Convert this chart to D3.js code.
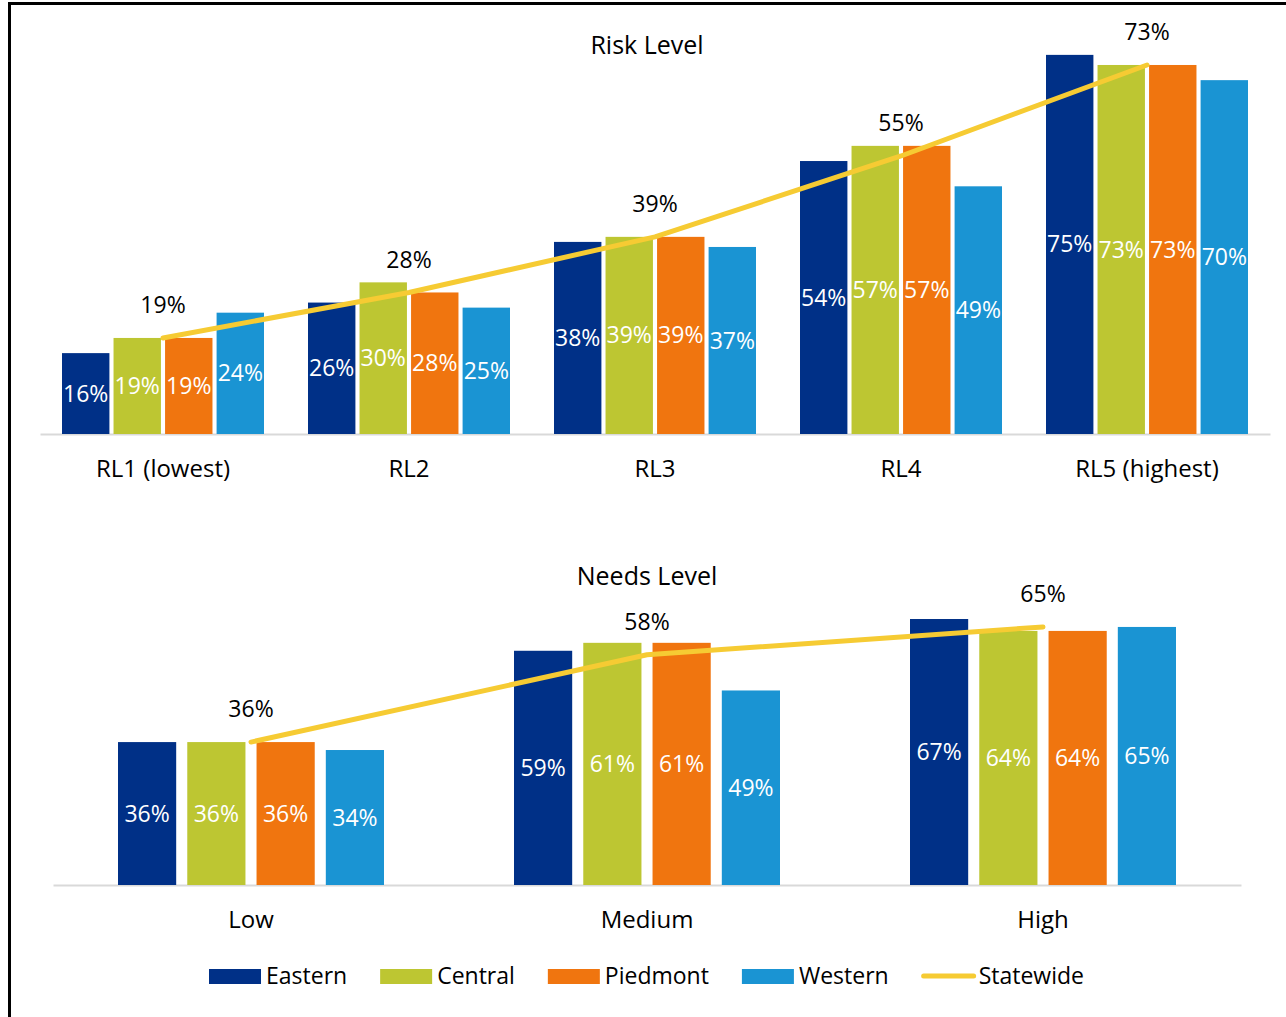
<!DOCTYPE html>
<html>
<head>
<meta charset="utf-8">
<script src="https://cdn.jsdelivr.net/npm/d3@7"></script>
<style>
  body { margin: 0; background: #fff; }
  svg text { font-family: "Open Sans", sans-serif; }
</style>
</head>
<body>
<div id="chart"></div>
<script>
const width = 1286,
    height = 1017;

// series / categories
const regions = ["Eastern", "Central", "Piedmont", "Western"];
const regionColors = ["#003087", "#BDC632", "#F0750F", "#1A94D3"];
const statewideColor = "#F6CB33";

const riskCats = ["RL1 (lowest)", "RL2", "RL3", "RL4", "RL5 (highest)"];
const riskEastern = [16, 26, 38, 54, 75];
const riskCentral = [19, 30, 39, 57, 73];
const riskPiedmont = [19, 28, 39, 57, 73];
const riskWestern = [24, 25, 37, 49, 70];
const riskStatewide = [19, 28, 39, 55, 73];

const needsCats = ["Low", "Medium", "High"];
const needsEastern = [36, 59, 67];
const needsCentral = [36, 61, 64];
const needsPiedmont = [36, 61, 64];
const needsWestern = [34, 49, 65];
const needsStatewide = [36, 58, 65];

let svg = d3.select('#chart').append('svg')
    .attr('width', width)
    .attr('height', height);

// frame (top and left edges visible)
svg.append("path")
    .attr("d", "M9.5,1286 V3.5 H1286")
    .attr("fill", "none")
    .attr("stroke", "#000")
    .attr("stroke-width", 3);

function drawPanel(opt) {
    let g = svg.append("g");

    let x = d3.scaleBand()
        .domain(opt.cats)
        .range([opt.x0, opt.x1]);

    let xi = d3.scaleBand()
        .domain(regions)
        .range(opt.inner)
        .paddingInner(opt.innerPad);

    let y = d3.scaleLinear()
        .domain([0, 80])
        .range([opt.base, opt.base - 80 * opt.pxPer]);

    // title
    g.append("text")
        .attr("x", 647)
        .attr("y", opt.titleY)
        .attr("dy", "0.35em")
        .attr("text-anchor", "middle")
        .style("font-size", "25px")
        .attr("fill", "#000")
        .text(opt.title);

    // axis
    let axis = g.append("g")
        .attr("transform", "translate(0," + opt.base + ")")
        .call(d3.axisBottom(x).tickSize(0).tickSizeOuter(0));
    axis.select(".domain")
        .attr("stroke", "#D9D9D9")
        .attr("stroke-width", 2);
    axis.selectAll("text")
        .attr("y", 35)
        .attr("dy", "0.35em")
        .attr("fill", "#000")
        .style("font-size", "24px")
        .style("font-family", "'Open Sans', sans-serif");

    let rows = opt.cats.map((c, i) => ({
        cat: c,
        vals: opt.series.map(s => s[i])
    }));

    let groups = g.selectAll(".grp")
        .data(rows)
        .enter()
        .append("g")
        .attr("transform", d => "translate(" + x(d.cat) + ",0)");

    groups.selectAll("rect")
        .data(d => d.vals.map((v, j) => ({ region: regions[j], v: v, j: j })))
        .enter()
        .append("rect")
        .attr("x", d => xi(d.region))
        .attr("width", xi.bandwidth())
        .attr("y", d => y(d.v))
        .attr("height", d => y(0) - y(d.v))
        .attr("fill", d => regionColors[d.j]);

    // statewide line
    let line = d3.line()
        .x((d, i) => x(opt.cats[i]) + x.bandwidth() / 2)
        .y(d => y(d));

    g.append("path")
        .datum(opt.statewide)
        .attr("d", line)
        .attr("fill", "none")
        .attr("stroke", statewideColor)
        .attr("stroke-width", 5)
        .attr("stroke-linecap", "round")
        .attr("stroke-linejoin", "round");

    // values inside bars
    groups.selectAll(".val")
        .data(d => d.vals.map((v, j) => ({ region: regions[j], v: v })))
        .enter()
        .append("text")
        .attr("x", d => xi(d.region) + xi.bandwidth() / 2)
        .attr("y", d => (y(d.v) + y(0)) / 2)
        .attr("dy", "0.35em")
        .attr("text-anchor", "middle")
        .attr("fill", "#fff")
        .style("font-size", "23px")
        .text(d => d.v + "%");

    // statewide labels
    g.selectAll(".sw")
        .data(opt.statewide)
        .enter()
        .append("text")
        .attr("x", (d, i) => x(opt.cats[i]) + x.bandwidth() / 2)
        .attr("y", d => y(d) - 33)
        .attr("dy", "0.35em")
        .attr("text-anchor", "middle")
        .attr("fill", "#000")
        .style("font-size", "23px")
        .text(d => d + "%");
}

drawPanel({
    title: "Risk Level",
    titleY: 45,
    cats: riskCats,
    series: [riskEastern, riskCentral, riskPiedmont, riskWestern],
    statewide: riskStatewide,
    x0: 40, x1: 1270,
    inner: [22, 224],
    innerPad: 0.08,
    base: 434,
    pxPer: 5.055
});

drawPanel({
    title: "Needs Level",
    titleY: 576,
    cats: needsCats,
    series: [needsEastern, needsCentral, needsPiedmont, needsWestern],
    statewide: needsStatewide,
    x0: 53, x1: 1241,
    inner: [65, 331],
    innerPad: 0.16,
    base: 885,
    pxPer: 3.97
});

// legend
let legend = svg.append("g");
let legendItems = regions.map((r, i) => ({ name: r, color: regionColors[i], line: false }))
    .concat([{ name: "Statewide", color: statewideColor, line: true }]);

let lx = 209;
legendItems.forEach(function (d) {
    if (d.line) {
        legend.append("line")
            .attr("x1", lx + 2).attr("x2", lx + 52)
            .attr("y1", 976).attr("y2", 976)
            .attr("stroke", d.color)
            .attr("stroke-width", 5)
            .attr("stroke-linecap", "round");
    } else {
        legend.append("rect")
            .attr("x", lx).attr("y", 969)
            .attr("width", 52).attr("height", 15)
            .attr("fill", d.color);
    }
    let t = legend.append("text")
        .attr("x", lx + 57)
        .attr("y", 976)
        .attr("dy", "0.35em")
        .attr("fill", "#000")
        .style("font-size", "23px")
        .text(d.name);
    lx += 57 + t.node().getComputedTextLength() + 33;
});
</script>
</body>
</html>
